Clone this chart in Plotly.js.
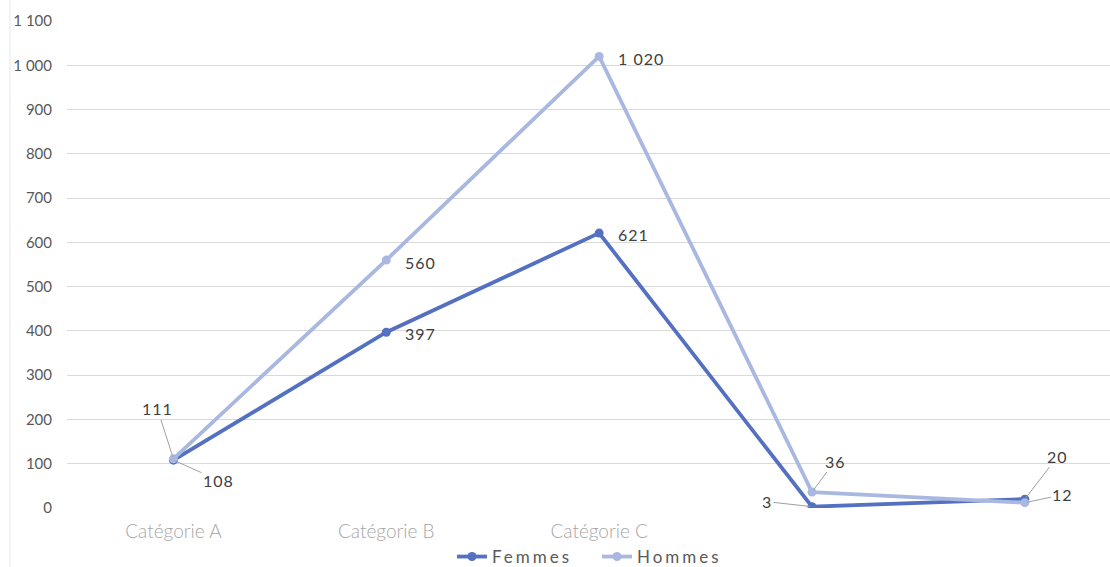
<!DOCTYPE html>
<html>
<head>
<meta charset="utf-8">
<script src="https://cdn.plot.ly/plotly-3.0.1.min.js"></script>
<style>
html,body{margin:0;padding:0;background:#fff;}
#chart{width:1110px;height:567px;}
.legendtext{letter-spacing:3px;}
.annotation-text{letter-spacing:1px;}
</style>
</head>
<body>
<div id="chart"></div>
<script>
const categories = ['Catégorie A', 'Catégorie B', 'Catégorie C', '', ''];
const femmes = [108, 397, 621, 3, 20];
const hommes = [111, 560, 1020, 36, 12];
const yTicks = [0, 100, 200, 300, 400, 500, 600, 700, 800, 900, 1000, 1100];

const xIdx = categories.map((c, i) => i);
const cFem = '#5470c1';
const cHom = '#a9b8e0';

// label placement styles (pixel offsets)
const femLabelStyle = [
  {ax: 45, ay: 20, arrow: true},
  {ax: 34, ay: 1, arrow: false},
  {ax: 34, ay: 1, arrow: false},
  {ax: -45, ay: -5, arrow: true},
  {ax: 33, ay: -43, arrow: true}
];
const homLabelStyle = [
  {ax: -16, ay: -50, arrow: true},
  {ax: 34, ay: 2, arrow: false},
  {ax: 42, ay: 2, arrow: false},
  {ax: 23, ay: -31, arrow: true},
  {ax: 38, ay: -8, arrow: true}
];

function fmt(v) {
  return String(v).replace(/\B(?=(\d{3})+(?!\d))/g, ' ');
}

function makeLabels(vals, styles) {
  return vals.map((v, i) => {
    const s = styles[i];
    const a = {
      x: xIdx[i], y: v, xref: 'x', yref: 'y',
      text: fmt(v),
      font: {family: 'Lato, "Open Sans", sans-serif', size: 16, color: '#404040'},
    };
    if (s.arrow) {
      Object.assign(a, {showarrow: true, arrowhead: 0, arrowwidth: 1, arrowcolor: '#a0a0a0',
        ax: s.ax, ay: s.ay, standoff: 2});
    } else {
      Object.assign(a, {showarrow: false, xanchor: 'center', yanchor: 'middle', xshift: s.ax, yshift: -s.ay});
    }
    return a;
  });
}

const traces = [
  {
    x: xIdx, y: femmes, name: 'Femmes', type: 'scatter', mode: 'lines+markers',
    line: {color: cFem, width: 3.8}, marker: {color: cFem, size: 9},
    hoverinfo: 'skip'
  },
  {
    x: xIdx, y: hommes, name: 'Hommes', type: 'scatter', mode: 'lines+markers',
    line: {color: cHom, width: 3.8}, marker: {color: cHom, size: 9},
    hoverinfo: 'skip'
  }
];

const layout = {
  width: 1110, height: 567,
  margin: {l: 67, r: 0, t: 21, b: 59, autoexpand: false},
  paper_bgcolor: '#ffffff', plot_bgcolor: '#ffffff',
  separators: ', ',
  font: {family: 'Lato, "Open Sans", sans-serif', color: '#595959'},
  showlegend: true,
  legend: {
    orientation: 'h', x: 452 / 1110, xanchor: 'left', xref: 'container',
    y: 1 - 557 / 567, yanchor: 'middle', yref: 'container',
    bgcolor: 'rgba(0,0,0,0)', entrywidth: 100, entrywidthmode: 'pixels',
    font: {size: 17, color: '#595959'}, traceorder: 'normal'
  },
  xaxis: {
    type: 'linear', range: [-0.5, 4.4],
    tickvals: xIdx, ticktext: categories,
    showgrid: false, zeroline: false, showline: false, ticks: '',
    ticklabelstandoff: 10, automargin: false,
    tickfont: {size: 19, color: '#a6a6a6', family: 'Lato, sans-serif', weight: 300},
    fixedrange: true
  },
  yaxis: {
    range: [0, 1100], tickvals: yTicks, tickformat: ',d',
    showgrid: true, gridcolor: '#d9d9d9', gridwidth: 1,
    zeroline: false, showline: false, ticks: '',
    ticklabelstandoff: 14, automargin: false,
    tickfont: {size: 15, color: '#595959', family: 'Lato, "Open Sans", sans-serif'},
    fixedrange: true
  },
  annotations: makeLabels(femmes, femLabelStyle).concat(makeLabels(hommes, homLabelStyle)),
  shapes: [
    {type: 'line', xref: 'paper', yref: 'paper', x0: -57/1043, x1: -57/1043, y0: -0.14, y1: 1.05,
     line: {color: '#e6e6e6', width: 1}}
  ]
};

Plotly.newPlot('chart', traces, layout, {displayModeBar: false, staticPlot: true});
</script>
</body>
</html>
